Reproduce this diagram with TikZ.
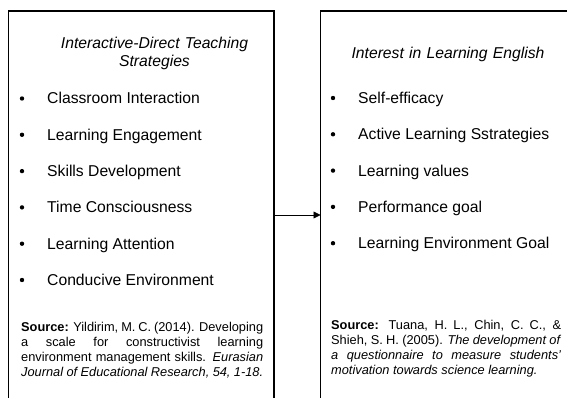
\documentclass[tikz,border=0pt]{standalone}
\usepackage{fontspec}
\setmainfont{Liberation Sans}
\usetikzlibrary{arrows.meta}
\begin{document}
\begin{tikzpicture}[x=1pt,y=1pt,
  panel/.style={draw=black, line width=1.4pt, minimum width=265.5pt,
    minimum height=408pt, inner sep=0pt, outer sep=0pt, anchor=north west},
  heading/.style={font=\fontsize{15.7}{18}\selectfont\itshape, text width=230pt,
    align=center, inner sep=0pt, anchor=base},
  item/.style={font=\fontsize{15.7}{18}\selectfont, inner sep=0pt, anchor=base west},
  dot/.style={circle, fill=black, minimum size=4.4pt, inner sep=0pt},
  source/.style={font=\fontsize{12.8}{15}\selectfont, inner sep=0pt,
    anchor=base west, align=justify},
  link/.style={-{Triangle[length=7pt,width=7pt]}, line width=0.8pt}
]
\useasboundingbox (0,0) rectangle (567,-398);
\fill[white] (0,0) rectangle (567,-398);
\clip (0,0) rectangle (567,-398);

% the two panels (they run past the lower and right edges)
\node[panel] (left) at (8.5,-11) {};
\node[panel] (right) at (320.5,-11) {};

% left panel
\node[heading] (lt) at (154.5,-49) {Interactive-Direct Teaching\\Strategies};
\foreach \t [count=\i] in {Classroom Interaction, Learning Engagement,
    Skills Development, Time Consciousness, Learning Attention,
    Conducive Environment}{
  \node[item] (li\i) at (47,{-104-36.3*(\i-1)}) {\t};
  \node[dot] (ld\i) at (22,{-98.5-36.3*(\i-1)}) {};
}
\node[source, text width=242pt] (ls) at (21,-331)
  {\textbf{Source:} Yildirim, M. C. (2014). Developing\linebreak
   a scale for constructivist learning\linebreak
   environment management skills. \textit{Eurasian}\linebreak
   \textit{Journal of Educational Research, 54, 1-18.}};

% right panel
\node[heading] (rt) at (448,-59) {Interest in Learning English};
\foreach \t [count=\i] in {Self-efficacy, Active Learning Sstrategies,
    Learning values, Performance goal, Learning Environment Goal}{
  \node[item] (ri\i) at (358,{-103.5-36.3*(\i-1)}) {\t};
  \node[dot] (rd\i) at (333,{-98-36.3*(\i-1)}) {};
}
\node[source, text width=230pt] (rs) at (331,-329.5)
  {\textbf{Source:} Tuana, H. L., Chin, C. C., \&\linebreak
   Shieh, S. H. (2005). \textit{The development of}\linebreak
   \textit{a questionnaire to measure students'}\linebreak
   \textit{motivation towards science learning.}};

% connector between the panels
\draw[link] (left.east) -- (right.west);
\end{tikzpicture}
\end{document}
